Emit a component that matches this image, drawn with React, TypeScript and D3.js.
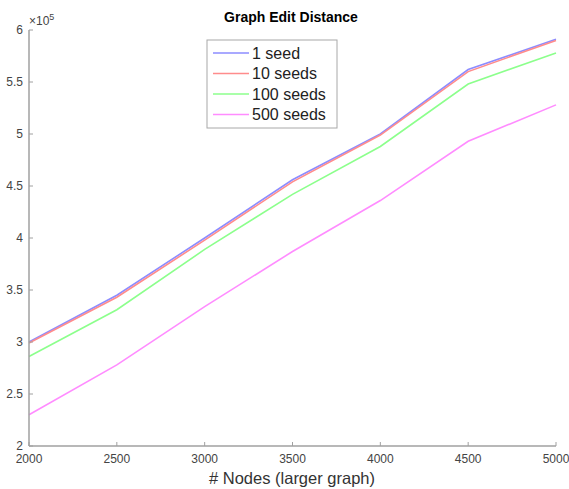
import React from "react";
import * as d3 from "d3";

const nodes = [2000, 2500, 3000, 3500, 4000, 4500, 5000];
const seed1 = [3.0, 3.45, 4.0, 4.56, 5.0, 5.62, 5.91];
const seed10 = [2.99, 3.43, 3.98, 4.54, 4.99, 5.6, 5.9];
const seed100 = [2.86, 3.31, 3.89, 4.42, 4.88, 5.48, 5.78];
const seed500 = [2.3, 2.78, 3.34, 3.87, 4.36, 4.93, 5.28];
const seriesNames = ["1 seed", "10 seeds", "100 seeds", "500 seeds"];
const seriesColors = ["#8c8cff", "#ff8c8c", "#8cff8c", "#ff8cff"];
const yTicks = [2, 2.5, 3, 3.5, 4, 4.5, 5, 5.5, 6];
const xTicks = [2000, 2500, 3000, 3500, 4000, 4500, 5000];

export default function App() {
  const W = 569, H = 489;
  const x = d3.scaleLinear().domain([2000, 5000]).range([29, 556]);
  const y = d3.scaleLinear().domain([2, 6]).range([446, 30]);
  const line = d3.line<number>().x((_, i) => x(nodes[i])).y((d) => y(d));
  const series = [seed1, seed10, seed100, seed500];
  const font = "Liberation Sans, Arial, Helvetica, sans-serif";
  const axisColor = "#a0a0a0";
  const textColor = "#444";
  return (
    <svg width={W} height={H} style={{ position: "absolute", left: 0, top: 0, background: "#fff" }} fontFamily={font}>
      <rect width={W} height={H} fill="#fff" />
      <text x={291} y={22} textAnchor="middle" fontWeight="bold" fontSize={14} fill="#000">Graph Edit Distance</text>
      {series.map((s, i) => (
        <path key={i} d={line(s) || ""} fill="none" stroke={seriesColors[i]} strokeWidth={1.6} />
      ))}
      <line x1={x(2000)} x2={x(2000)} y1={y(6)} y2={y(2)} stroke={axisColor} strokeWidth={1.5} />
      <line x1={x(2000)} x2={x(5000)} y1={y(2)} y2={y(2)} stroke={axisColor} strokeWidth={1.5} />
      {yTicks.map((t) => (
        <g key={t}>
          <line x1={x(2000)} x2={x(2000) + 4} y1={y(t)} y2={y(t)} stroke={axisColor} strokeWidth={1} />
          <text x={23} y={y(t) + 4} textAnchor="end" fontSize={12} fill={textColor}>{t}</text>
        </g>
      ))}
      {xTicks.map((t) => (
        <g key={t}>
          <line x1={x(t)} x2={x(t)} y1={y(2)} y2={y(2) - 4} stroke={axisColor} strokeWidth={1} />
          <text x={x(t)} y={463} textAnchor="middle" fontSize={12} fill={textColor}>{t}</text>
        </g>
      ))}
      <text x={29} y={25} fontSize={12} fill={textColor}>
        ×10<tspan dy={-5} fontSize={9}>5</tspan>
      </text>
      <text x={292} y={484} textAnchor="middle" fontSize={16.5} fill="#333"># Nodes (larger graph)</text>
      <rect x={207} y={40} width={130} height={88} fill="#fff" stroke="#a8a8a8" strokeWidth={1} />
      {seriesNames.map((n, i) => (
        <g key={n}>
          <line x1={213} x2={249} y1={53 + i * 20.5} y2={53 + i * 20.5} stroke={seriesColors[i]} strokeWidth={1.6} />
          <text x={252} y={58.5 + i * 20.5} fontSize={16} fill="#222">{n}</text>
        </g>
      ))}
    </svg>
  );
}
